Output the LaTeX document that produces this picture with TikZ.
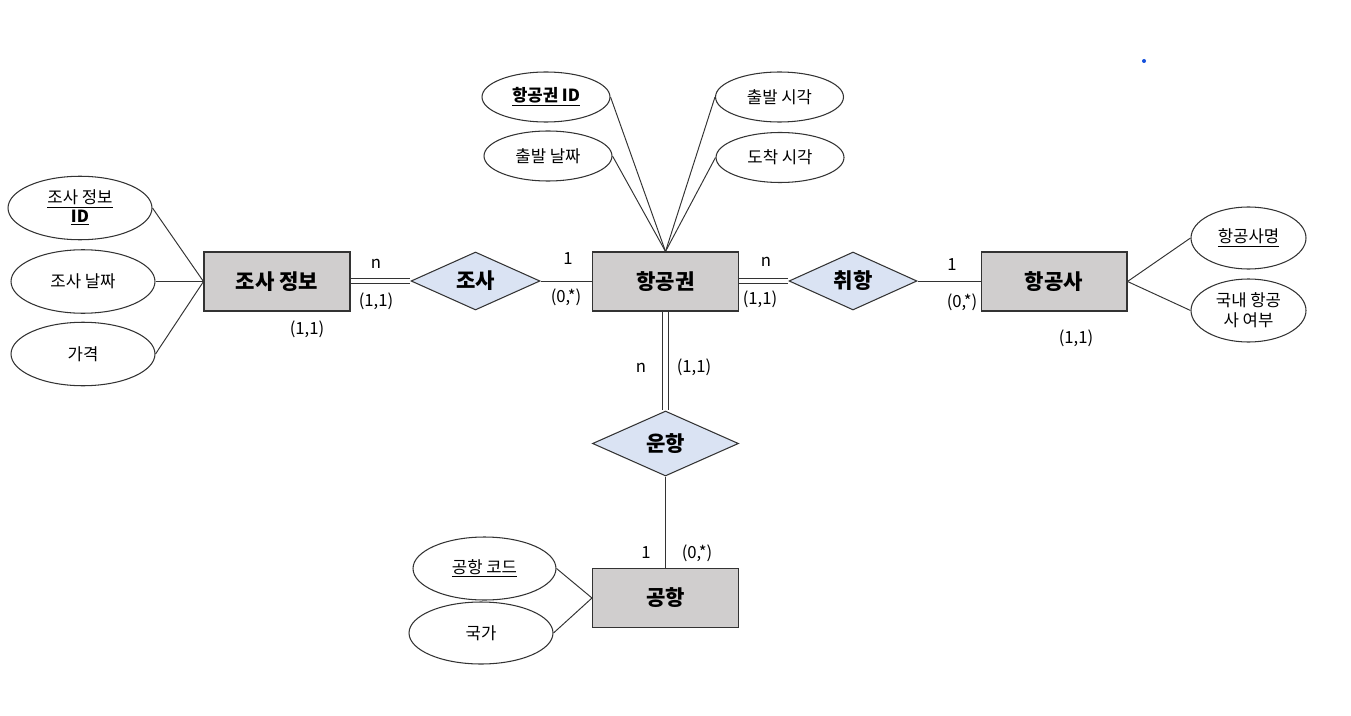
\documentclass[tikz,border=0pt]{standalone}
\usepackage{fontspec}
\setmainfont{Noto Sans CJK KR}
\usetikzlibrary{shapes.geometric}

\definecolor{entgray}{RGB}{208,206,206}
\definecolor{relblue}{RGB}{218,227,243}
\definecolor{dotblue}{RGB}{20,80,220}

\begin{document}
\begin{tikzpicture}[
  x=0.02cm, y=-0.02cm,
  font=\fontsize{9.5}{11.5}\selectfont,
  line width=0.6pt,
  entity/.style={draw=black!80, fill=entgray, minimum width=2.92cm, minimum height=1.18cm, inner sep=0pt, font=\fontsize{12}{14}\selectfont\bfseries},
  rel/.style={diamond, draw=black!80, fill=relblue, aspect=2.2, minimum width=2.58cm, minimum height=1.16cm, inner sep=0pt, font=\fontsize{12}{14}\selectfont\bfseries},
  attr/.style={ellipse, draw=black!80, fill=white, inner sep=0pt, minimum width=2.88cm, minimum height=1.27cm, align=center},
  attrsm/.style={attr, minimum width=2.56cm, minimum height=1.0cm},
  link/.style={draw=black!80, line width=0.55pt},
  card/.style={inner sep=1pt}
]
\useasboundingbox (0,0) rectangle (1351,716);

% entities
\node[entity] (survey) at (277,281.5) {조사 정보};
\node[entity] (ticket) at (665.5,281.5) {항공권};
\node[entity] (airline) at (1054,281.5) {항공사};
\node[entity] (airport) at (665.5,598) {공항};

% relationships
\node[rel] (check) at (475.5,281) {조사};
\node[rel, minimum width=2.56cm] (serve) at (853,281) {취항};
\node[rel, minimum width=2.92cm, minimum height=1.3cm] (fly) at (665.5,443.5) {운항};

% attributes
\node[attr] (sid) at (80,208) {\underline{조사 정보}\\[-1pt]\underline{\textbf{ID}}};
\node[attr] (sdate) at (83,281.5) {조사 날짜};
\node[attr] (sprice) at (83,354) {가격};

\node[attrsm] (tid) at (546,97) {\underline{\textbf{항공권 ID}}};
\node[attrsm] (tdate) at (548,156) {출발 날짜};
\node[attrsm] (tdep) at (779.5,97) {출발 시각};
\node[attrsm] (tarr) at (780,157.5) {도착 시각};

\node[attr, minimum width=2.3cm, minimum height=1.24cm] (aname) at (1248.5,238) {\underline{항공사명}};
\node[attr, minimum width=2.3cm, minimum height=1.26cm] (adom) at (1248.5,310.5) {국내 항공\\사 여부};

\node[attr, minimum width=2.86cm, minimum height=1.26cm] (pcode) at (484.5,568.5) {\underline{공항 코드}};
\node[attr, minimum width=2.88cm, minimum height=1.24cm] (pnation) at (481,633) {국가};

% attribute links
\draw[link] (sid.east) -- (survey.west);
\draw[link] (sdate.east) -- (survey.west);
\draw[link] (sprice.east) -- (survey.west);
\draw[link] (tid.east) -- (ticket.north);
\draw[link] (tdate.east) -- (ticket.north);
\draw[link] (tdep.west) -- (ticket.north);
\draw[link] (tarr.west) -- (ticket.north);
\draw[link] (airline.east) -- (aname.west);
\draw[link] (airline.east) -- (adom.west);
\draw[link] (pcode.east) -- (airport.west);
\draw[link] (pnation.east) -- (airport.west);

% relationship links (double = total participation)
\foreach \s in {-1.6pt,1.6pt} {
  \draw[link, transform canvas={yshift=\s}] (survey.east |- check.west) -- (check.west);
  \draw[link, transform canvas={yshift=\s}] (ticket.east |- serve.west) -- (serve.west);
  \draw[link, transform canvas={xshift=\s}] (ticket.south) -- (fly.north);
}
\draw[link] (check.east) -- (ticket.west |- check.east);
\draw[link] (serve.east) -- (airline.west |- serve.east);
\draw[link] (fly.south) -- (airport.north);

% cardinalities
\node[card] (c1n) at (376,264) {n};
\node[card] (c1a) at (376,301) {(1,1)};
\node[card] (c1o) at (568,259) {1};
\node[card] (c1b) at (566,297) {(0,*)};
\node[card] (c1s) at (307,329) {(1,1)};
\node[card] (c2n) at (766,262) {n};
\node[card] (c2a) at (760,299) {(1,1)};
\node[card] (c2o) at (952,265) {1};
\node[card] (c2b) at (962,302) {(0,*)};
\node[card] (c2s) at (1076,338) {(1,1)};
\node[card] (c3n) at (641,368) {n};
\node[card] (c3a) at (694,367) {(1,1)};
\node[card] (c3o) at (646,553) {1};
\node[card] (c3b) at (697,553) {(0,*)};

\fill[dotblue] (1144,61) circle (0.04cm);
\end{tikzpicture}
\end{document}
